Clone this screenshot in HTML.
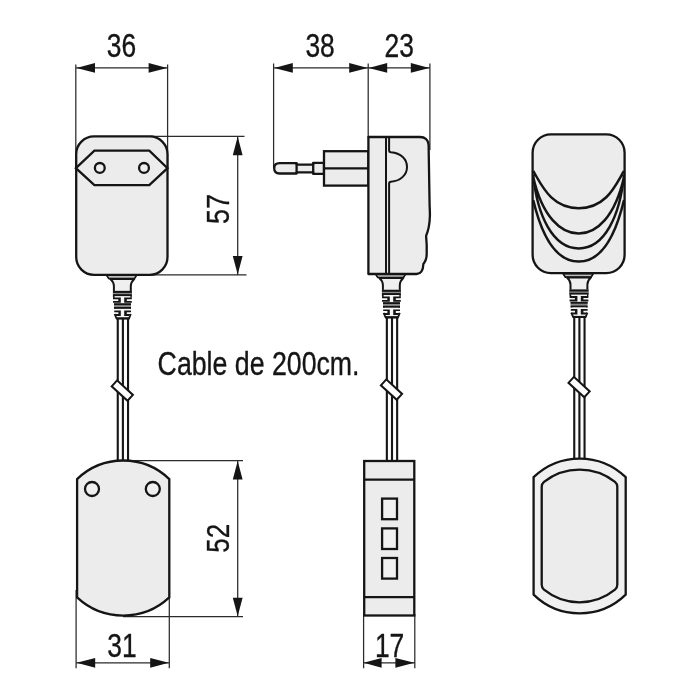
<!DOCTYPE html>
<html lang="es">
<head>
<meta charset="utf-8">
<title>Cable de 200cm.</title>
<style>
html,body{margin:0;padding:0;background:#fff;}
body{width:700px;height:700px;overflow:hidden;}
svg{display:block;will-change:transform;}
text{font-family:"Liberation Sans",sans-serif;stroke:#151515;stroke-width:0.35px;stroke-linejoin:round;}
</style>
</head>
<body>
<svg width="700" height="700" viewBox="0 0 700 700">
<rect width="700" height="700" fill="#fff"/>
<path d="M75.8,64.4 V168 M167.6,64.4 V168 M76,67.9 H167.6 M273.6,63.6 V168 M368.2,63.6 V138 M429.9,63.6 V150 M273.6,67.9 H429.9 M150,136.3 H244.5 M150,274.8 H246.5 M237.7,136.3 V274.8 M123,460.7 H243 M123,616.6 H243 M237.7,460.7 V616.6 M76.1,590 V668.3 M169.3,594 V668.3 M76.1,662.8 H169.3 M363.6,614 V668.3 M414.8,614 V668.3 M363.6,662.8 H414.8" stroke="#2b2b2b" stroke-width="1.25" fill="none"/>
<path d="M76.4,67.9 L95.0,63.00000000000001 L95.0,72.80000000000001 Z" fill="#151515"/>
<path d="M167.2,67.9 L148.6,63.00000000000001 L148.6,72.80000000000001 Z" fill="#151515"/>
<path d="M274.2,67.9 L292.8,63.00000000000001 L292.8,72.80000000000001 Z" fill="#151515"/>
<path d="M367.8,67.9 L349.2,63.00000000000001 L349.2,72.80000000000001 Z" fill="#151515"/>
<path d="M368.6,67.9 L387.20000000000005,63.00000000000001 L387.20000000000005,72.80000000000001 Z" fill="#151515"/>
<path d="M429.4,67.9 L410.79999999999995,63.00000000000001 L410.79999999999995,72.80000000000001 Z" fill="#151515"/>
<path d="M237.7,136.6 L232.79999999999998,155.2 L242.6,155.2 Z" fill="#151515"/>
<path d="M237.7,274.5 L232.79999999999998,255.9 L242.6,255.9 Z" fill="#151515"/>
<path d="M237.7,461.0 L232.79999999999998,479.6 L242.6,479.6 Z" fill="#151515"/>
<path d="M237.7,616.3 L232.79999999999998,597.6999999999999 L242.6,597.6999999999999 Z" fill="#151515"/>
<path d="M76.6,662.8 L95.19999999999999,657.9 L95.19999999999999,667.6999999999999 Z" fill="#151515"/>
<path d="M168.8,662.8 L150.20000000000002,657.9 L150.20000000000002,667.6999999999999 Z" fill="#151515"/>
<path d="M363.6,662.8 L381.6,657.9 L381.6,667.6999999999999 Z" fill="#151515"/>
<path d="M414.4,662.8 L395.4,657.9 L395.4,667.6999999999999 Z" fill="#151515"/>
<rect x="117.75" y="318" width="10.3" height="143" fill="#fbfbfb"/>
<path d="M117.75,318 V461 M122.9,318 V461 M128.05,318 V461" stroke="#151515" stroke-width="2.1" fill="none"/>
<rect x="-10.7" y="-4.0" width="21.4" height="8.0" transform="translate(122.3,390.6) rotate(42.5)" fill="#fff" stroke="#151515" stroke-width="2.0"/>
<rect x="386.85" y="317" width="10.3" height="144" fill="#fbfbfb"/>
<path d="M386.85,317 V461 M392.0,317 V461 M397.15,317 V461" stroke="#151515" stroke-width="2.1" fill="none"/>
<rect x="-10.7" y="-4.0" width="21.4" height="8.0" transform="translate(391.5,389.6) rotate(42.5)" fill="#fff" stroke="#151515" stroke-width="2.0"/>
<rect x="574.25" y="317" width="10.3" height="142" fill="#fbfbfb"/>
<path d="M574.25,317 V459 M579.4,317 V459 M584.55,317 V459" stroke="#151515" stroke-width="2.1" fill="none"/>
<rect x="-10.7" y="-4.0" width="21.4" height="8.0" transform="translate(579.1,387.1) rotate(42.5)" fill="#fff" stroke="#151515" stroke-width="2.0"/>
<g transform="translate(0,0)">
<path d="M106.4,275 L136.8,275 L134.4,278.6 L108.8,278.6 Z" fill="#bdbdbd" stroke="#151515" stroke-width="1.7" stroke-linejoin="round"/>
<path d="M110.4,279 C112.6,281 113.9,283 113.9,286 V297 H130.8 V286 C130.8,283 132.1,281 134.3,279 Z" fill="#efefef" stroke="#151515" stroke-width="2" stroke-linejoin="round"/>
<rect x="113" y="290.9" width="18.8" height="5.2" fill="#8a8a8a"/>
<rect x="113" y="290.9" width="18.8" height="2.0" fill="#151515"/>
<rect x="113" y="294.2" width="18.8" height="1.9" fill="#151515"/>
<rect x="114.6" y="296.1" width="15.8" height="7.3" fill="#f6f6f6"/>
<path d="M113,297.5 H120.8 V302.8 H113 V301.0 H118.3 V299.3 H113 Z" fill="#151515"/>
<path d="M131.8,297.5 H124.2 V302.8 H131.8 V301.0 H126.8 V299.3 H131.8 Z" fill="#151515"/>
<rect x="114" y="303.3" width="17" height="5.6" fill="#8a8a8a"/>
<rect x="114" y="303.3" width="17" height="1.8" fill="#151515"/>
<rect x="114" y="307.0" width="17" height="1.9" fill="#151515"/>
<rect x="115.6" y="308.9" width="14" height="8.3" fill="#f6f6f6"/>
<path d="M114.2,310.5 H120.8 V316.0 H116.2 L114.6,314 H118.4 V312.2 H114.2 Z" fill="#151515"/>
<path d="M131,310.5 H124.2 V316.0 H128.9 L130.6,314 H126.8 V312.2 H131 Z" fill="#151515"/>
<path d="M114.6,314 L116.6,318.6 H129 L130.8,314" fill="none" stroke="#151515" stroke-width="1.8" stroke-linejoin="round"/>
<rect x="116.4" y="317.3" width="12.6" height="1.9" fill="#151515"/>
</g>
<g transform="translate(269,-1.1)">
<path d="M106.4,275 L136.8,275 L134.4,278.6 L108.8,278.6 Z" fill="#bdbdbd" stroke="#151515" stroke-width="1.7" stroke-linejoin="round"/>
<path d="M110.4,279 C112.6,281 113.9,283 113.9,286 V297 H130.8 V286 C130.8,283 132.1,281 134.3,279 Z" fill="#efefef" stroke="#151515" stroke-width="2" stroke-linejoin="round"/>
<rect x="113" y="290.9" width="18.8" height="5.2" fill="#8a8a8a"/>
<rect x="113" y="290.9" width="18.8" height="2.0" fill="#151515"/>
<rect x="113" y="294.2" width="18.8" height="1.9" fill="#151515"/>
<rect x="114.6" y="296.1" width="15.8" height="7.3" fill="#f6f6f6"/>
<path d="M113,297.5 H120.8 V302.8 H113 V301.0 H118.3 V299.3 H113 Z" fill="#151515"/>
<path d="M131.8,297.5 H124.2 V302.8 H131.8 V301.0 H126.8 V299.3 H131.8 Z" fill="#151515"/>
<rect x="114" y="303.3" width="17" height="5.6" fill="#8a8a8a"/>
<rect x="114" y="303.3" width="17" height="1.8" fill="#151515"/>
<rect x="114" y="307.0" width="17" height="1.9" fill="#151515"/>
<rect x="115.6" y="308.9" width="14" height="8.3" fill="#f6f6f6"/>
<path d="M114.2,310.5 H120.8 V316.0 H116.2 L114.6,314 H118.4 V312.2 H114.2 Z" fill="#151515"/>
<path d="M131,310.5 H124.2 V316.0 H128.9 L130.6,314 H126.8 V312.2 H131 Z" fill="#151515"/>
<path d="M114.6,314 L116.6,318.6 H129 L130.8,314" fill="none" stroke="#151515" stroke-width="1.8" stroke-linejoin="round"/>
<rect x="116.4" y="317.3" width="12.6" height="1.9" fill="#151515"/>
</g>
<g transform="translate(456.6,-1.4)">
<path d="M106.4,275 L136.8,275 L134.4,278.6 L108.8,278.6 Z" fill="#bdbdbd" stroke="#151515" stroke-width="1.7" stroke-linejoin="round"/>
<path d="M110.4,279 C112.6,281 113.9,283 113.9,286 V297 H130.8 V286 C130.8,283 132.1,281 134.3,279 Z" fill="#efefef" stroke="#151515" stroke-width="2" stroke-linejoin="round"/>
<rect x="113" y="290.9" width="18.8" height="5.2" fill="#8a8a8a"/>
<rect x="113" y="290.9" width="18.8" height="2.0" fill="#151515"/>
<rect x="113" y="294.2" width="18.8" height="1.9" fill="#151515"/>
<rect x="114.6" y="296.1" width="15.8" height="7.3" fill="#f6f6f6"/>
<path d="M113,297.5 H120.8 V302.8 H113 V301.0 H118.3 V299.3 H113 Z" fill="#151515"/>
<path d="M131.8,297.5 H124.2 V302.8 H131.8 V301.0 H126.8 V299.3 H131.8 Z" fill="#151515"/>
<rect x="114" y="303.3" width="17" height="5.6" fill="#8a8a8a"/>
<rect x="114" y="303.3" width="17" height="1.8" fill="#151515"/>
<rect x="114" y="307.0" width="17" height="1.9" fill="#151515"/>
<rect x="115.6" y="308.9" width="14" height="8.3" fill="#f6f6f6"/>
<path d="M114.2,310.5 H120.8 V316.0 H116.2 L114.6,314 H118.4 V312.2 H114.2 Z" fill="#151515"/>
<path d="M131,310.5 H124.2 V316.0 H128.9 L130.6,314 H126.8 V312.2 H131 Z" fill="#151515"/>
<path d="M114.6,314 L116.6,318.6 H129 L130.8,314" fill="none" stroke="#151515" stroke-width="1.8" stroke-linejoin="round"/>
<rect x="116.4" y="317.3" width="12.6" height="1.9" fill="#151515"/>
</g>
<rect x="76.2" y="136.4" width="91.3" height="138.5" rx="17.8" ry="17.8" fill="#ececec" stroke="#151515" stroke-width="2.3"/>
<path d="M75.9,168.2 L94.4,150.7 H149.3 L167.5,168.2 L149.3,185.1 H94.4 Z" fill="#ececec" stroke="#151515" stroke-width="2.3" stroke-linejoin="miter"/>
<circle cx="99.8" cy="167.9" r="4.9" fill="#efefef" stroke="#151515" stroke-width="2.3"/>
<circle cx="144" cy="167.9" r="4.9" fill="#efefef" stroke="#151515" stroke-width="2.3"/>
<path d="M324,162.8 H313.2 V164.6 H296.6 V163.1 H279.5 Q274.2,163.1 274.2,168.3 Q274.2,173.5 279.5,173.5 H296.6 V172.3 H313.2 V173.9 H324 Z" fill="#ececec" stroke="#151515" stroke-width="2.3" stroke-linejoin="round"/>
<path d="M296.6,163.1 V173.5 M313.2,162.8 V173.9" stroke="#151515" stroke-width="2.3" fill="none"/>
<rect x="324" y="151.2" width="44.4" height="34.4" fill="#ececec" stroke="#151515" stroke-width="2.3"/>
<path d="M324,168.4 H368" stroke="#151515" stroke-width="2.3" fill="none"/>
<path d="M368.4,137 H420 C425,137 428.4,140 428.6,145 L429.6,205 C429.8,210 430,213 429.9,216 C429.7,224 428.6,230 426.1,235.9 L426.7,245 L426.7,254 C426.7,259 425,262 423.4,264 C423.2,269 421.5,274 416.5,274 H368.4 Z" fill="#ececec" stroke="#151515" stroke-width="2.3" stroke-linejoin="round"/>
<path d="M386.0,137 V274" stroke="#151515" stroke-width="2.0" fill="none"/>
<path d="M389.1,137 V150.4 Q389.1,152 391,152.2 C401,153 407,159.5 407,166.9 C407,174.4 401,181 391,181.7 Q389.1,181.9 389.1,183.6 V274" stroke="#151515" stroke-width="2.0" fill="none" stroke-linejoin="round"/>
<rect x="532.6" y="134.4" width="92" height="138.7" rx="18.3" ry="18.3" fill="#ececec" stroke="#151515" stroke-width="2.3"/>
<path d="M533.2,171.0 C541.2,184.01999999999998 550.8,208.2 578.8,208.2 C606.8,208.2 616.0,184.01999999999998 624.0,171.0 M533.2,177 C542.2,216.62 560.8,233.6 578.8,233.6 C596.8,233.6 615.0,216.62 624.0,177 M533.2,175 C537.2,215.37 552.8,248.4 578.8,248.4 C604.8,248.4 620.0,215.37 624.0,175 M533.2,200 C544.2,246.20000000000002 560.8,261.6 578.8,261.6 C596.8,261.6 613.0,246.20000000000002 624.0,200" stroke="#151515" stroke-width="2.5" fill="none"/>
<path d="M77.1,479.1 A66.4,66.4 0 0 1 169.3,479.1 V597.4 A67.5,67.5 0 0 1 77.1,597.4 Z" fill="#ececec" stroke="#151515" stroke-width="2.3" stroke-linejoin="miter"/>
<circle cx="92" cy="489" r="7.0" fill="#efefef" stroke="#151515" stroke-width="2.3"/>
<circle cx="152.8" cy="489" r="7.0" fill="#efefef" stroke="#151515" stroke-width="2.3"/>
<rect x="364.2" y="461" width="50.1" height="154.5" fill="#ececec" stroke="#151515" stroke-width="2.3"/>
<path d="M364.2,479.7 H414.3 M364.2,597.2 H414.3" stroke="#151515" stroke-width="2.3" fill="none"/>
<rect x="382.1" y="498.6" width="14.9" height="20.6" fill="#f1f1f1" stroke="#151515" stroke-width="2.3"/>
<rect x="382.1" y="528.4" width="14.9" height="20.6" fill="#f1f1f1" stroke="#151515" stroke-width="2.3"/>
<rect x="382.1" y="558.0" width="14.9" height="20.6" fill="#f1f1f1" stroke="#151515" stroke-width="2.3"/>
<path d="M533.6,477.2 A66.2,66.2 0 0 1 625.7,477.2 V594.6 A66,66 0 0 1 533.6,594.6 Z" fill="#f0f0f0" stroke="#151515" stroke-width="2.3" stroke-linejoin="miter"/>
<path d="M541.7,486.8 Q541.7,483.8 544,481.8 A57.7,57.7 0 0 1 615,481.8 Q617.3,483.8 617.3,486.8 V584.7 Q617.3,587.7 615,589.7 A56.2,56.2 0 0 1 544,589.7 Q541.7,587.7 541.7,584.7 Z" fill="#ececec" stroke="#151515" stroke-width="2.3" stroke-linejoin="round"/>
<text transform="translate(121.4,56.8) scale(0.815,1.0)" font-size="32.4" text-anchor="middle" fill="#151515">36</text>
<text transform="translate(320.1,56.8) scale(0.815,1.0)" font-size="32.4" text-anchor="middle" fill="#151515">38</text>
<text transform="translate(399.2,56.8) scale(0.815,1.0)" font-size="32.4" text-anchor="middle" fill="#151515">23</text>
<text transform="translate(121.9,657.0) scale(0.815,1.0)" font-size="32.4" text-anchor="middle" fill="#151515">31</text>
<text transform="translate(389.6,657.0) scale(0.815,1.0)" font-size="32.4" text-anchor="middle" fill="#151515">17</text>
<text transform="translate(229.1,209) rotate(-90) scale(0.845,1.0)" font-size="31.9" text-anchor="middle" fill="#151515">57</text>
<text transform="translate(229.1,538.2) rotate(-90) scale(0.815,1.0)" font-size="31.9" text-anchor="middle" fill="#151515">52</text>
<text transform="translate(157.6,375.2) scale(0.8,1.0)" font-size="33.4" text-anchor="start" fill="#151515">Cable de 200cm.</text>
</svg>
</body>
</html>
